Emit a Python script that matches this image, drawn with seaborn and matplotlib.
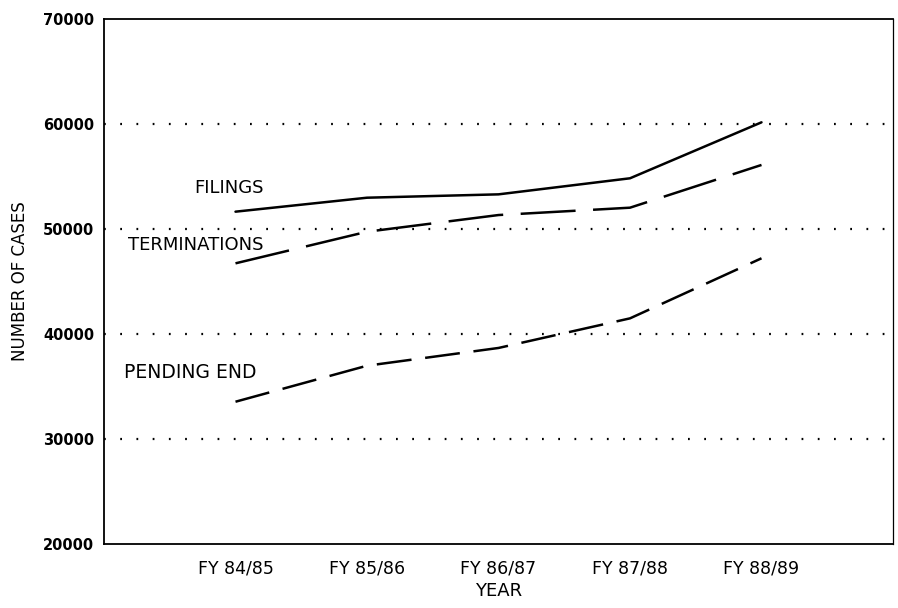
import matplotlib
matplotlib.use("Agg")
import matplotlib.pyplot as plt
import seaborn as sns
import pandas as pd

years = ["FY 84/85", "FY 85/86", "FY 86/87", "FY 87/88", "FY 88/89"]
filings = [51650, 52980, 53300, 54830, 60160]
terminations = [46730, 49740, 51330, 52030, 56100]
pending_end = [33550, 36980, 38670, 41490, 47210]
y_ticks = [20000, 30000, 40000, 50000, 60000, 70000]

sns.set_style("white")
plt.rcParams["font.family"] = ["DejaVu Sans"]
plt.rcParams.update({"text.color": "black", "axes.labelcolor": "black",
                     "xtick.color": "black", "ytick.color": "black"})

fig = plt.figure(figsize=(8.98, 6.08), dpi=100)
ax = fig.add_axes([104/898, 1-544/608, (893-104)/898, (544-19)/608])

xpos = list(range(1, len(years) + 1))
df = pd.DataFrame({"x": xpos, "filings": filings, "terminations": terminations, "pending": pending_end})

sns.lineplot(data=df, x="x", y="filings", ax=ax, color="black", lw=1.8)
sns.lineplot(data=df, x="x", y="terminations", ax=ax, color="black", lw=1.8)
ax.lines[-1].set_dashes([22, 7])
sns.lineplot(data=df, x="x", y="pending", ax=ax, color="black", lw=1.8)
ax.lines[-1].set_dashes([14, 5.5])

for yv in y_ticks[1:-1]:
    ax.axhline(yv, color="black", lw=1.6, linestyle=(0, (0.8, 6.5)), zorder=1)

ax.set_xlim(0, 6)
ax.set_ylim(20000, 70000)
ax.set_xticks(xpos)
ax.set_xticklabels(years, fontsize=12.5)
ax.set_yticks(y_ticks)
ax.set_yticklabels([str(v) for v in y_ticks], fontsize=10.5, fontweight="bold")
ax.tick_params(axis="x", direction="inout", length=7, width=1.2, pad=8)
ax.tick_params(axis="y", direction="out", length=5, width=1.2, pad=2)
for s in ax.spines.values():
    s.set_color("black")
    s.set_linewidth(1.3)
ax.spines["right"].set_linewidth(0.9)

ax.set_xlabel("YEAR", fontsize=13, labelpad=3)
ax.set_ylabel("NUMBER OF CASES", fontsize=12, labelpad=10)

ax.text(0.685, 53900, "FILINGS", fontsize=13, ha="left", va="center")
ax.text(0.18, 48480, "TERMINATIONS", fontsize=13, ha="left", va="center")
ax.text(0.15, 36310, "PENDING END", fontsize=13.5, ha="left", va="center")

fig.savefig("out.png", dpi=100)
